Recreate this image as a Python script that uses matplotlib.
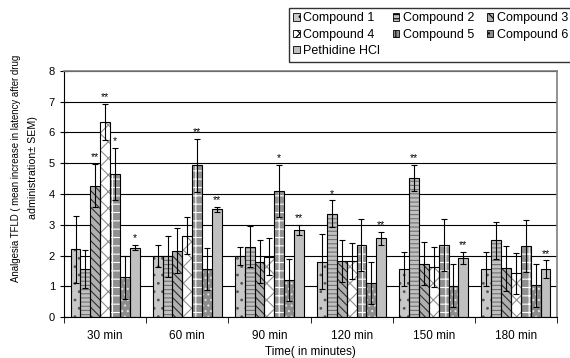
import numpy as np
import matplotlib
matplotlib.use("Agg")
import matplotlib.pyplot as plt

plt.rcParams["font.family"] = ["Liberation Sans", "DejaVu Sans"]
plt.rcParams["hatch.linewidth"] = 0.8

times = ["30 min", "60 min", "90 min", "120 min", "150 min", "180 min"]
series = ["Compound 1", "Compound 2", "Compound 3", "Compound 4",
          "Compound 5", "Compound 6", "Pethidine HCl"]

compound1 = [2.20, 1.98, 1.98, 1.80, 1.56, 1.55]
compound2 = [1.56, 1.98, 2.29, 3.36, 4.52, 2.50]
compound3 = [4.27, 2.16, 1.79, 1.82, 1.73, 1.59]
compound4 = [6.34, 2.65, 1.96, 1.82, 1.63, 1.42]
compound5 = [4.65, 4.93, 4.10, 2.33, 2.33, 2.32]
compound6 = [1.29, 1.56, 1.20, 1.10, 1.01, 1.03]
pethidine = [2.25, 3.51, 2.83, 2.56, 1.93, 1.56]

sem1 = [1.10, 0.35, 0.30, 0.90, 0.55, 0.55]
sem2 = [0.63, 0.67, 0.67, 0.43, 0.43, 0.60]
sem3 = [0.70, 0.72, 0.70, 0.67, 0.70, 0.73]
sem4 = [0.60, 0.60, 0.60, 0.60, 0.65, 0.67]
sem5 = [0.85, 0.85, 0.85, 0.85, 0.85, 0.85]
sem6 = [0.70, 0.67, 0.68, 0.68, 0.70, 0.70]
sem_p = [0.08, 0.08, 0.15, 0.21, 0.20, 0.28]

# significance marks (series index, group index, text)
stars = [(2, 0, "**"), (3, 0, "**"), (4, 0, "*"), (6, 0, "*"),
         (4, 1, "**"), (6, 1, "**"),
         (4, 2, "*"), (6, 2, "**"),
         (1, 3, "*"), (6, 3, "**"),
         (1, 4, "**"), (6, 4, "**"),
         (6, 5, "**")]

values = [compound1, compound2, compound3, compound4, compound5, compound6, pethidine]
errors = [sem1, sem2, sem3, sem4, sem5, sem6, sem_p]

# face colour, hatch, hatch colour
styles = [
    ("#c8c8c8", "..", "#555555"),
    ("#c0c0c0", "----", "#707070"),
    ("#b0b0b0", "\\\\\\\\", "#303030"),
    ("#ffffff", "xx", "#909090"),
    ("#909090", "++", "#ffffff"),
    ("#8c8c8c", "...", "#e0e0e0"),
    ("#c0c0c0", "", "#c0c0c0"),
]

fig = plt.figure(figsize=(5.7, 3.58), dpi=100)
ax = fig.add_axes([0.1123, 0.1145, 0.8649, 0.6872])

x = np.arange(len(times))
w = 0.12
for j, (vals, errs) in enumerate(zip(values, errors)):
    pos = x + (j - 3) * w
    face, hatch, hcol = styles[j]
    ax.bar(pos, vals, w, color=face, hatch=hatch, edgecolor=hcol, linewidth=0, zorder=2)
    ax.bar(pos, vals, w, fill=False, edgecolor="black", linewidth=0.8, zorder=3)
    ax.errorbar(pos, vals, yerr=errs, fmt="none", ecolor="black", elinewidth=0.8,
                capsize=2.5, capthick=0.8, zorder=4)

for j, i, txt in stars:
    top = values[j][i] + errors[j][i]
    ax.text(x[i] + (j - 3) * w, top + 0.06, txt, ha="center", va="bottom", fontsize=7.5)

ax.set_xlim(-0.5, len(times) - 0.5)
ax.set_ylim(0, 8)
ax.set_yticks(range(9))
ax.set_xticks(x)
ax.set_xticklabels(times, fontsize=8.5)
ax.set_xticks(np.arange(-0.5, len(times)), minor=True)
ax.tick_params(axis="x", which="major", length=0, pad=9)
ax.tick_params(axis="x", which="minor", length=4, direction="out")
ax.tick_params(axis="y", labelsize=8, direction="inout", length=6)
ax.yaxis.grid(True, color="black", linewidth=0.8, zorder=0)
ax.set_axisbelow(True)
for s in ("top", "right"):
    ax.spines[s].set_color("#808080")
    ax.spines[s].set_linewidth(1.2)

ax.set_xlabel("Time( in minutes)", fontsize=8.5, labelpad=3)
# y label drawn as two lines; the first is compressed in the original
fig.text(16 / 570, 1 - 168 / 358, "Analgesia TFLD ( mean increase in latency after drug",
         rotation=90, ha="center", va="center", fontsize=6.9)
fig.text(33 / 570, 1 - 168 / 358, "administration\u00b1 SEM)",
         rotation=90, ha="center", va="center", fontsize=7.7)

order = [0, 3, 6, 1, 4, 2, 5]
handles = [plt.Rectangle((0, 0), 1, 1, facecolor=styles[k][0], hatch=styles[k][1],
                         edgecolor="black", linewidth=0.6) for k in order]
fig.legend(handles=handles, labels=[series[k] for k in order], ncol=3,
           loc="upper left", bbox_to_anchor=(289 / 570, 1 - 8 / 358), borderaxespad=0,
           fontsize=9, frameon=True, fancybox=False, edgecolor="black",
           handlelength=0.5, handleheight=0.5, handletextpad=0.3, columnspacing=1.0,
           labelspacing=0.35, borderpad=0.35)

fig.savefig("out.png")
